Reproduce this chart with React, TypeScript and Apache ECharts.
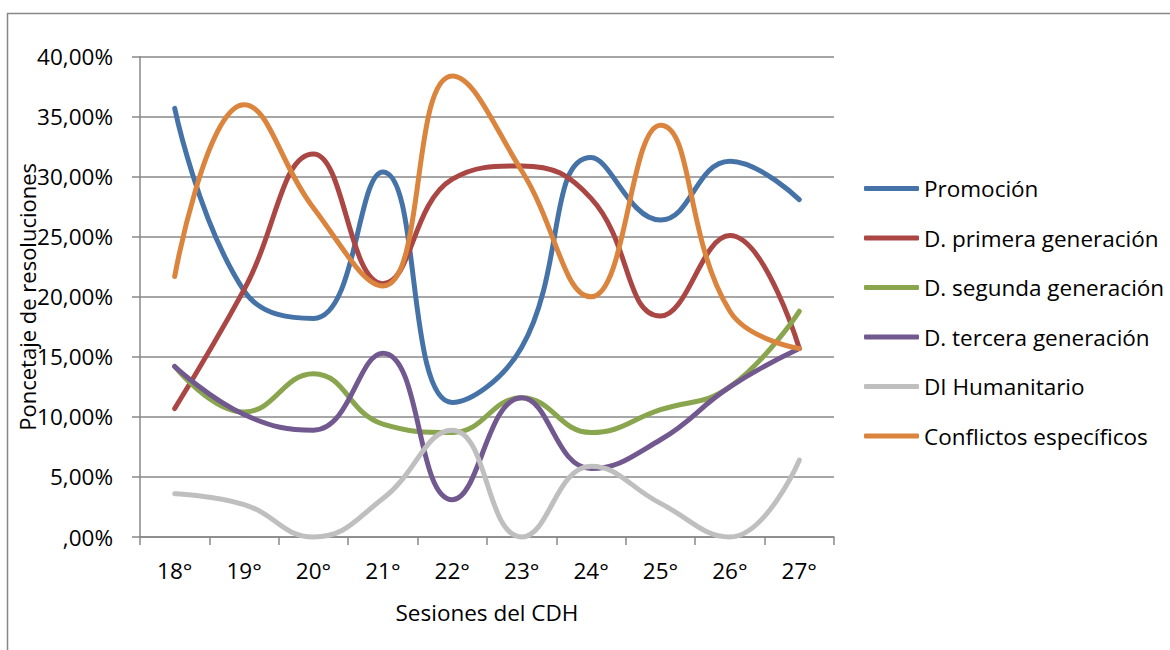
import React, { useEffect, useRef } from "react";
import * as echarts from "echarts";

const categories = ["18°", "19°", "20°", "21°", "22°", "23°", "24°", "25°", "26°", "27°"];
const seriesNames = [
  "Promoción",
  "D. primera generación",
  "D. segunda generación",
  "D. tercera generación",
  "DI Humanitario",
  "Conflictos específicos",
];
const promocion = [35.7, 20.5, 18.2, 30.4, 11.2, 15.8, 31.6, 26.4, 31.3, 28.1];
const primera = [10.7, 20.6, 31.9, 21.1, 29.8, 30.9, 28.2, 18.4, 25.1, 15.7];
const segunda = [14.2, 10.4, 13.6, 9.4, 8.7, 11.6, 8.7, 10.6, 12.5, 18.8];
const tercera = [14.2, 10.2, 8.9, 15.3, 3.1, 11.6, 5.7, 8.1, 12.5, 15.7];
const humanitario = [3.6, 2.7, 0, 3.2, 8.9, 0, 5.9, 2.8, 0, 6.4];
const conflictos = [21.7, 36.0, 27.4, 20.9, 38.4, 30.5, 20.0, 34.3, 18.8, 15.7];
const colors = ["#4572A7", "#AA4643", "#89A54E", "#71588F", "#BFBFBF", "#DB843D"];

const FONT = "'Open Sans', sans-serif";

export default function App() {
  const ref = useRef<HTMLDivElement>(null);
  useEffect(() => {
    if (!ref.current) return;
    const chart = echarts.init(ref.current, null, { renderer: "svg" });
    const values = [promocion, primera, segunda, tercera, humanitario, conflictos];
    chart.setOption({
      animation: false,
      backgroundColor: "#ffffff",
      textStyle: { fontFamily: FONT },
      graphic: [
        {
          type: "rect",
          shape: { x: 7.5, y: 13.5, width: 1300, height: 800 },
          style: { fill: "none", stroke: "#888888", lineWidth: 1.5 },
          silent: true,
        },
      ],
      grid: { left: 140, top: 56.7, right: 336, bottom: 113, containLabel: false },
      legend: {
        orient: "vertical",
        left: 859,
        top: 172,
        icon: "roundRect",
        itemWidth: 55,
        itemHeight: 5,
        itemGap: 26.5,
        textStyle: { fontFamily: FONT, fontSize: 22.5, color: "#000", lineHeight: 22 },
        data: seriesNames,
      },
      xAxis: {
        type: "category",
        data: categories,
        boundaryGap: true,
        name: "Sesiones del CDH",
        nameLocation: "middle",
        nameGap: 64,
        nameMoveOverlap: false,
        nameTextStyle: { fontFamily: FONT, fontSize: 22.5, color: "#000" },
        axisLine: { lineStyle: { color: "#888888", width: 1.5 } },
        axisTick: { show: true, length: 8, alignWithLabel: false, lineStyle: { color: "#888888", width: 1.5 } },
        axisLabel: { fontFamily: FONT, fontSize: 22.5, color: "#000", margin: 22 },
        splitLine: { show: false },
      },
      yAxis: {
        type: "value",
        min: 0,
        max: 40,
        interval: 5,
        name: "Poncetaje de resoluciones",
        nameLocation: "middle",
        nameRotate: 90,
        nameGap: 102,
        nameMoveOverlap: false,
        nameTextStyle: { fontFamily: FONT, fontSize: 22, color: "#000" },
        axisLine: { show: true, lineStyle: { color: "#888888", width: 1.5 } },
        axisTick: { show: true, length: 8, lineStyle: { color: "#888888", width: 1.5 } },
        axisLabel: {
          fontFamily: FONT,
          fontSize: 22.5,
          color: "#000",
          margin: 27,
          formatter: (v: number) => (v === 0 ? ",00%" : v.toFixed(2).replace(".", ",") + "%"),
        },
        splitLine: { show: true, lineStyle: { color: "#888888", width: 1.5 } },
      },
      series: seriesNames.map((name, i) => ({
        name,
        type: "line",
        data: values[i],
        smooth: 0.45,
        showSymbol: false,
        symbol: "none",
        color: colors[i],
        lineStyle: { color: colors[i], width: 5, cap: "round", join: "round" },
        itemStyle: { color: colors[i] },
        clip: false,
        z: 2 + i,
      })),
    });
    return () => chart.dispose();
  }, []);
  return (
    <div
      ref={ref}
      style={{ position: "fixed", left: 0, top: 0, width: 1170, height: 650, background: "#fff" }}
    />
  );
}
